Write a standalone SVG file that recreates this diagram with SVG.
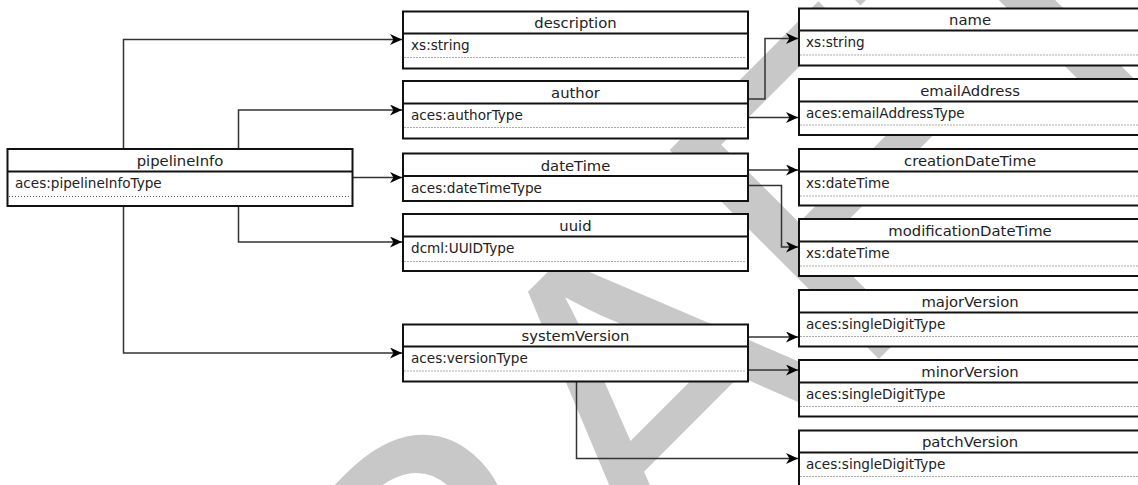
<svg xmlns="http://www.w3.org/2000/svg" width="1138" height="485" viewBox="0 0 1138 485">
<defs>
<style>
.box{fill:#fff;stroke:#111;stroke-width:2}
.sep{stroke:#111;stroke-width:2}
.dot{stroke:#555;stroke-width:1;stroke-dasharray:1 2}
.title{font-family:"DejaVu Sans",Verdana,sans-serif;font-size:14.8px;fill:#222;text-anchor:middle}
.type{font-family:"DejaVu Sans",Verdana,sans-serif;font-size:13.6px;fill:#222}
.conn{fill:none;stroke:#333;stroke-width:1.5}
.wm{font-family:"Liberation Sans",Arial,sans-serif;font-size:430px;fill:#c8c8c8}
</style>
<marker id="arr" markerUnits="userSpaceOnUse" markerWidth="14" markerHeight="12" refX="12" refY="5.5" orient="auto">
<path d="M0,0 L12,5.5 L0,11 L3.5,5.5 z" fill="#000"/>
</marker>
</defs>
<rect width="1138" height="485" fill="#fff"/>
<text class="wm" transform="translate(212,1026) rotate(-45)">DRAFT</text>
<g id="connectors">
<path class="conn" marker-end="url(#arr)" d="M123.5,149 V39.5 H402"/>
<path class="conn" marker-end="url(#arr)" d="M238.5,149 V110 H402"/>
<path class="conn" marker-end="url(#arr)" d="M352.5,177.5 H402"/>
<path class="conn" marker-end="url(#arr)" d="M238.5,206 V242 H402"/>
<path class="conn" marker-end="url(#arr)" d="M123.5,206 V353 H402"/>
<path class="conn" marker-end="url(#arr)" d="M748,99 H765 V38.5 H798"/>
<path class="conn" marker-end="url(#arr)" d="M748,117.5 H798"/>
<path class="conn" marker-end="url(#arr)" d="M748,170 H798"/>
<path class="conn" marker-end="url(#arr)" d="M748,185.5 H781.5 V247 H798"/>
<path class="conn" marker-end="url(#arr)" d="M748,337 H798"/>
<path class="conn" marker-end="url(#arr)" d="M748,370 H798"/>
<path class="conn" marker-end="url(#arr)" d="M576.5,381.5 V458.5 H798"/>
</g>
<g id="pipelineInfo">
<rect class="box" x="7.5" y="149" width="345" height="57"/>
<line class="sep" x1="7.5" y1="171.5" x2="352.5" y2="171.5"/>
<line class="dot" x1="9" y1="196.5" x2="351" y2="196.5"/>
<text class="title" x="180" y="166">pipelineInfo</text>
<text class="type" x="15" y="188">aces:pipelineInfoType</text>
</g>
<g id="description">
<rect class="box" x="403" y="11.5" width="345" height="57"/>
<line class="sep" x1="403" y1="33.5" x2="748" y2="33.5"/>
<line class="dot" x1="404.5" y1="57.5" x2="746.5" y2="57.5"/>
<text class="title" x="575.5" y="27.5">description</text>
<text class="type" x="411" y="50">xs:string</text>
</g>
<g id="author">
<rect class="box" x="403" y="81" width="345" height="57.5"/>
<line class="sep" x1="403" y1="103.5" x2="748" y2="103.5"/>
<line class="dot" x1="404.5" y1="127.5" x2="746.5" y2="127.5"/>
<text class="title" x="575.5" y="98">author</text>
<text class="type" x="411" y="120">aces:authorType</text>
</g>
<g id="dateTime">
<rect class="box" x="403" y="153.5" width="345" height="47.5"/>
<line class="sep" x1="403" y1="176" x2="748" y2="176"/>
<text class="title" x="575.5" y="170.5">dateTime</text>
<text class="type" x="411" y="192.5">aces:dateTimeType</text>
</g>
<g id="uuid">
<rect class="box" x="403" y="214" width="345" height="57"/>
<line class="sep" x1="403" y1="236.5" x2="748" y2="236.5"/>
<line class="dot" x1="404.5" y1="261.5" x2="746.5" y2="261.5"/>
<text class="title" x="575.5" y="231">uuid</text>
<text class="type" x="411" y="253">dcml:UUIDType</text>
</g>
<g id="systemVersion">
<rect class="box" x="403" y="324.5" width="345" height="57"/>
<line class="sep" x1="403" y1="346.5" x2="748" y2="346.5"/>
<line class="dot" x1="404.5" y1="371" x2="746.5" y2="371"/>
<text class="title" x="575.5" y="341">systemVersion</text>
<text class="type" x="411" y="363">aces:versionType</text>
</g>
<g id="name">
<rect class="box" x="799" y="8.5" width="342" height="57"/>
<line class="sep" x1="799" y1="30.5" x2="1141" y2="30.5"/>
<line class="dot" x1="800.5" y1="55" x2="1139" y2="55"/>
<text class="title" x="970" y="25">name</text>
<text class="type" x="806" y="47">xs:string</text>
</g>
<g id="emailAddress">
<rect class="box" x="799" y="79" width="342" height="56"/>
<line class="sep" x1="799" y1="101.5" x2="1141" y2="101.5"/>
<line class="dot" x1="800.5" y1="125" x2="1139" y2="125"/>
<text class="title" x="970" y="96">emailAddress</text>
<text class="type" x="806" y="118">aces:emailAddressType</text>
</g>
<g id="creationDateTime">
<rect class="box" x="799" y="149" width="342" height="56.5"/>
<line class="sep" x1="799" y1="171.5" x2="1141" y2="171.5"/>
<line class="dot" x1="800.5" y1="196" x2="1139" y2="196"/>
<text class="title" x="970" y="166">creationDateTime</text>
<text class="type" x="806" y="188">xs:dateTime</text>
</g>
<g id="modificationDateTime">
<rect class="box" x="799" y="219" width="342" height="57"/>
<line class="sep" x1="799" y1="241.5" x2="1141" y2="241.5"/>
<line class="dot" x1="800.5" y1="266" x2="1139" y2="266"/>
<text class="title" x="970" y="236">modificationDateTime</text>
<text class="type" x="806" y="258">xs:dateTime</text>
</g>
<g id="majorVersion">
<rect class="box" x="799" y="290" width="342" height="56.5"/>
<line class="sep" x1="799" y1="312.5" x2="1141" y2="312.5"/>
<line class="dot" x1="800.5" y1="336.5" x2="1139" y2="336.5"/>
<text class="title" x="970" y="307">majorVersion</text>
<text class="type" x="806" y="329">aces:singleDigitType</text>
</g>
<g id="minorVersion">
<rect class="box" x="799" y="360" width="342" height="56.5"/>
<line class="sep" x1="799" y1="382.5" x2="1141" y2="382.5"/>
<line class="dot" x1="800.5" y1="406.5" x2="1139" y2="406.5"/>
<text class="title" x="970" y="377">minorVersion</text>
<text class="type" x="806" y="399">aces:singleDigitType</text>
</g>
<g id="patchVersion">
<rect class="box" x="799" y="430.5" width="342" height="57"/>
<line class="sep" x1="799" y1="452.5" x2="1141" y2="452.5"/>
<line class="dot" x1="800.5" y1="476.5" x2="1139" y2="476.5"/>
<text class="title" x="970" y="447">patchVersion</text>
<text class="type" x="806" y="469">aces:singleDigitType</text>
</g>
</svg>
